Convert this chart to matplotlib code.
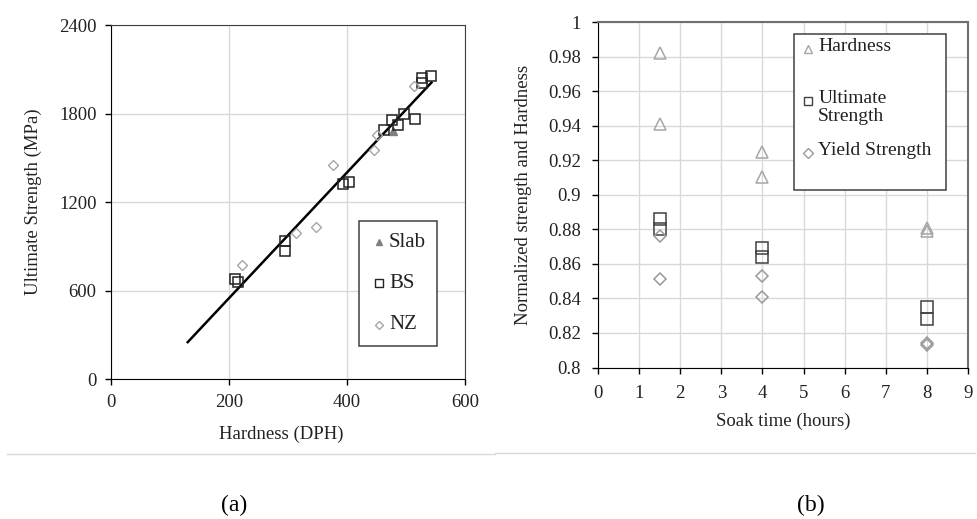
import matplotlib

matplotlib.use("Agg")
import matplotlib.pyplot as plt
from matplotlib.lines import Line2D
from matplotlib.patches import Rectangle

plt.rcParams.update({
    "font.family": ["Liberation Serif", "DejaVu Serif"],
    "font.size": 13.5,
})

# ---- (a) hardness vs ultimate strength ----
slab_hv = [478]
slab_uts = [1680]
bs_hv = [527, 543, 527, 515, 496, 487, 477, 463, 394, 403, 295, 295, 210, 216]
bs_uts = [2040, 2054, 2005, 1766, 1798, 1720, 1754, 1686, 1323, 1334, 934, 866, 675, 661]
nz_hv = [514, 451, 446, 376, 314, 347, 222]
nz_uts = [1986, 1657, 1555, 1448, 993, 1030, 773]
fit_hv = [130, 543]
fit_uts = [250, 2010]

# ---- (b) normalized properties vs soak time ----
hard_t = [1.5, 1.5, 4, 4, 8, 8]
hard_v = [0.982, 0.941, 0.925, 0.910, 0.881, 0.879]
uts_t = [1.5, 1.5, 4, 4, 8, 8]
uts_v = [0.886, 0.880, 0.869, 0.864, 0.835, 0.828]
ys_t = [1.5, 1.5, 4, 4, 8, 8]
ys_v = [0.876, 0.851, 0.853, 0.841, 0.814, 0.813]

GRID = "#d9d9d9"
DARK = "#404040"
LGRAY = "#a6a6a6"
TXT = "#222222"

fig = plt.figure(figsize=(9.78, 5.19), dpi=100)
axa = fig.add_axes([0.1135, 0.2697, 0.362, 0.682])
axb = fig.add_axes([0.6115, 0.2919, 0.3783, 0.6657])

# panel (a)
axa.plot(fit_hv, fit_uts, color="black", lw=1.8, zorder=2)
axa.plot(slab_hv, slab_uts, ls="none", marker="^", ms=6, color="#808080", zorder=3)
axa.plot(bs_hv, bs_uts, ls="none", marker="s", ms=7, mfc="none", mec="#222222",
         mew=1.1, zorder=4)
axa.plot(nz_hv, nz_uts, ls="none", marker="D", ms=5, mfc="none", mec=LGRAY,
         mew=1.0, zorder=4)
axa.set_xlim(0, 600)
axa.set_ylim(0, 2400)
axa.set_xticks([0, 200, 400, 600])
axa.set_yticks([0, 600, 1200, 1800, 2400])
axa.grid(True, color=GRID, lw=1)
axa.set_axisbelow(True)
axa.tick_params(direction="out", length=4.5, width=1, pad=6, colors="black",
                labelcolor=TXT)
for s in ["top", "right"]:
    axa.spines[s].set_color(DARK)
for s in ["left", "bottom"]:
    axa.spines[s].set_color("black")
axa.set_xlabel("Hardness (DPH)", color=TXT)
axa.set_ylabel("Ultimate Strength (MPa)", color=TXT)
axa.xaxis.set_label_coords(0.48, -0.133)
axa.yaxis.set_label_coords(-0.196, 0.5)

# legend (a)
axa.add_patch(Rectangle((0.70, 0.093), 0.221, 0.353, transform=axa.transAxes,
                        fc="white", ec=DARK, lw=1.1, zorder=5))
leg_a = [("Slab", "^", "#808080", "#808080", 5),
         ("BS", "s", "none", "#222222", 6),
         ("NZ", "D", "none", LGRAY, 4.5)]
for (lab, mk, fc, ec, ms), yy in zip(leg_a, [0.387, 0.271, 0.153]):
    axa.add_line(Line2D([0.757], [yy], transform=axa.transAxes, marker=mk, ms=ms,
                        mfc=fc, mec=ec, mew=1.0, ls="none", zorder=6))
    axa.text(0.785, yy, lab, transform=axa.transAxes, ha="left", va="center",
             fontsize=15, color=TXT, zorder=6)

# panel (b)
axb.plot(hard_t, hard_v, ls="none", marker="^", ms=8, mfc="none", mec=LGRAY,
         mew=1.1, zorder=4)
axb.plot(uts_t, uts_v, ls="none", marker="s", ms=8, mfc="none", mec=DARK,
         mew=1.1, zorder=4)
axb.plot(ys_t, ys_v, ls="none", marker="D", ms=6, mfc="none", mec="#999999",
         mew=1.1, zorder=4)
axb.set_xlim(0, 9)
axb.set_ylim(0.8, 1.0)
axb.set_xticks(range(0, 10))
yt = [0.8 + 0.02 * i for i in range(11)]
axb.set_yticks(yt)
axb.set_yticklabels(["0.8", "0.82", "0.84", "0.86", "0.88", "0.9", "0.92",
                     "0.94", "0.96", "0.98", "1"])
axb.grid(True, color=GRID, lw=1)
axb.set_axisbelow(True)
axb.tick_params(direction="out", length=4.5, width=1, pad=8, labelcolor=TXT)
for s in ["top", "right"]:
    axb.spines[s].set_color("#707070")
    axb.spines[s].set_linewidth(1.5)
for s in ["left", "bottom"]:
    axb.spines[s].set_color("black")
axb.set_xlabel("Soak time (hours)", color=TXT)
axb.set_ylabel("Normalized strength and Hardness", color=TXT)
axb.xaxis.set_label_coords(0.5, -0.132)
axb.yaxis.set_label_coords(-0.178, 0.5)

# legend (b)
axb.add_patch(Rectangle((0.53, 0.514), 0.41, 0.451, transform=axb.transAxes,
                        fc="white", ec=DARK, lw=1.1, zorder=5))
leg_b = [("Hardness", "^", LGRAY, 0.922),
         ("Ultimate\nStrength", "s", DARK, 0.771),
         ("Yield Strength", "D", "#999999", 0.621)]
for lab, mk, ec, yy in leg_b:
    axb.add_line(Line2D([0.568], [yy], transform=axb.transAxes, marker=mk,
                        ms=6 if mk != "D" else 5, mfc="none", mec=ec,
                        mew=1.0, ls="none", zorder=6))
    axb.text(0.595, yy + 0.032, lab, transform=axb.transAxes, ha="left", va="top",
             fontsize=14, color=TXT, zorder=6, linespacing=1.1)

# chart-area borders and captions
fig.add_artist(Line2D([7 / 978, 495 / 978], [1 - 454 / 519] * 2, color=GRID, lw=1))
fig.add_artist(Line2D([495 / 978, 975 / 978], [1 - 453 / 519] * 2, color=GRID, lw=1))
fig.text(234 / 978, 1 - 505 / 519, "(a)", ha="center", va="center", fontsize=17)
fig.text(811 / 978, 1 - 505 / 519, "(b)", ha="center", va="center", fontsize=17)

fig.savefig("out.png", dpi=100)
